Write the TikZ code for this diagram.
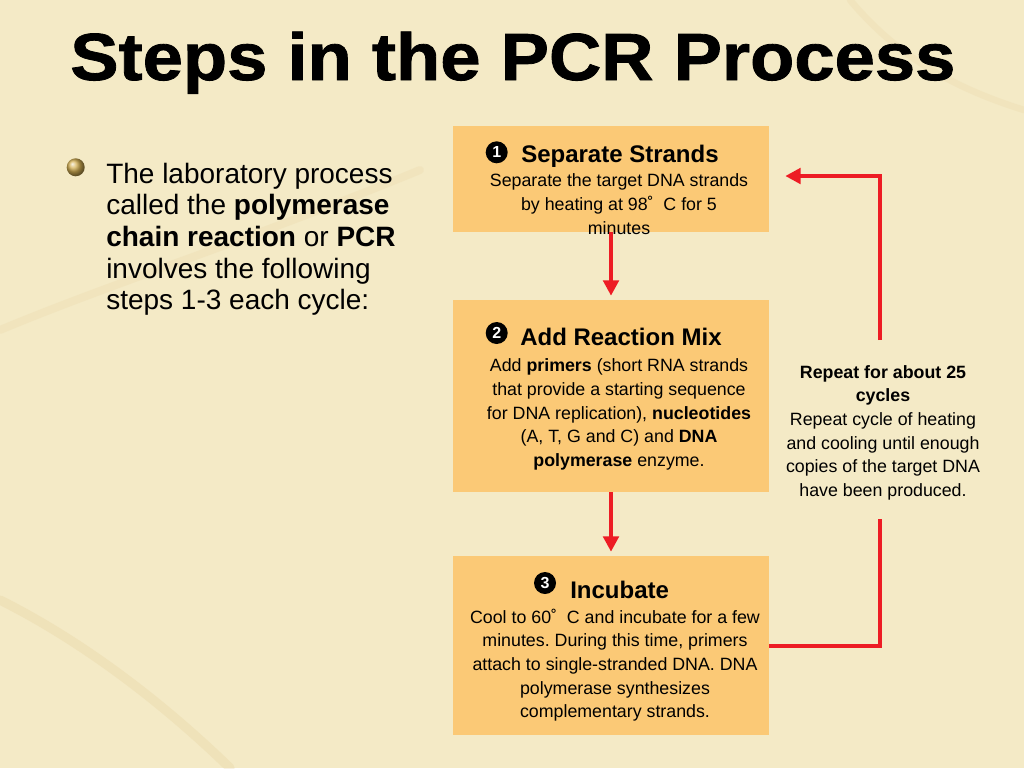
\documentclass[tikz,border=0pt]{standalone}
\usepackage{fontspec}
\setmainfont{Liberation Sans}
\usepackage{graphicx}
\usetikzlibrary{arrows.meta}
\definecolor{paper}{RGB}{244,234,198}
\definecolor{streak}{RGB}{224,198,142}
\definecolor{boxfill}{RGB}{251,201,118}
\definecolor{pcrred}{RGB}{237,28,36}
\definecolor{gold}{RGB}{212,176,84}
\newcommand{\ctab}[1]{\begin{tabular}[t]{@{}c@{}}#1\end{tabular}}
\newcommand{\ltab}[1]{\begin{tabular}[t]{@{}l@{}}#1\end{tabular}}
\frenchspacing
\begin{document}
\begin{tikzpicture}[x=0.75pt,y=-0.75pt,
  stepbox/.style={fill=boxfill, draw=none, minimum width=237pt, inner sep=0pt},
  numdot/.style={circle, fill=black, text=white, inner sep=0pt, minimum size=16.5pt, font=\bfseries\fontsize{12}{12}\selectfont},
  heading/.style={anchor=base west, inner sep=0pt, font=\bfseries\fontsize{18}{20}\selectfont},
  body/.style={anchor=base, inner sep=0pt, font=\fontsize{13.35}{17.8}\selectfont},
  flow/.style={draw=pcrred, line width=3pt, -{Triangle[length=11.5pt,width=11.5pt]}},
  loopline/.style={draw=pcrred, line width=3pt}]
\useasboundingbox (0,0) rectangle (1024,768);
\fill[paper] (0,0) rectangle (1024,768);
% faint paper streaks
\draw[streak, opacity=0.22, line width=7pt, line cap=round] (0,600) .. controls (80,640) and (160,700) .. (230,768);
\draw[streak, opacity=0.15, line width=6pt, line cap=round] (0,330) .. controls (120,280) and (250,240) .. (420,170);
\draw[streak, opacity=0.15, line width=5pt, line cap=round] (850,0) .. controls (900,60) and (960,90) .. (1024,110);

% title
\node[anchor=base west, inner sep=0pt] (title) at (70,80)
  {\scalebox{1.086}[1]{\fontsize{50}{55}\selectfont\bfseries\addfontfeatures{FakeBold=1.2}Steps in the PCR Process}};

% left bullet text
\node[circle, minimum size=13.5pt, inner sep=0pt, shading=ball, ball color=gold] (bullet) at (75.7,167.3) {};
\node[anchor=base west, inner sep=0pt, font=\fontsize{21}{23.8}\selectfont] (intro) at (106,183)
  {\ltab{The laboratory process\\called the \textbf{polymerase}\\\textbf{chain reaction} or \textbf{PCR}\\involves the following\\steps 1-3 each cycle:}};

% boxes
\node[stepbox, minimum height=79.5pt] (b1) at (611,179) {};
\node[stepbox, minimum height=144pt] (b2) at (611,396) {};
\node[stepbox, minimum height=134.25pt] (b3) at (611,645.5) {};

% box 1
\node[numdot] (n1) at (496.7,152.3) {1};
\node[heading] (h1) at (521,162.5) {Separate Strands};
\node[body] (t1) at (619,186.7)
  {\ctab{Separate the target DNA strands\\by heating at 98˚\hspace{0.55em}C for 5\\minutes}};

% box 2
\node[numdot] (n2) at (496.7,333) {2};
\node[heading] (h2) at (520,345) {Add Reaction Mix};
\node[body] (t2) at (619,371.7)
  {\ctab{Add \textbf{primers} (short RNA strands\\that provide a starting sequence\\for DNA replication), \textbf{nucleotides}\\(A, T, G and C) and \textbf{DNA}\\\textbf{polymerase} enzyme.}};

% box 3
\node[numdot] (n3) at (545,583) {3};
\node[heading] (h3) at (570,598) {Incubate};
\node[body] (t3) at (615,623)
  {\ctab{Cool to 60˚\hspace{0.55em}C and incubate for a few\\minutes. During this time, primers\\attach to single-stranded DNA. DNA\\polymerase synthesizes\\complementary strands.}};

% repeat text
\node[body] (rep) at (883,378)
  {\ctab{\textbf{Repeat for about 25}\\\textbf{cycles}\\Repeat cycle of heating\\and cooling until enough\\copies of the target DNA\\have been produced.}};

% connectors
\draw[flow, shorten >=3pt] (b1.south) -- (b2.north);
\draw[flow, shorten >=3pt] (b2.south) -- (b3.north);
\coordinate (c1) at (880,519);
\coordinate (c2) at (880,340);
\draw[loopline] (b3.east) -| (c1);
\draw[flow, shorten >=12pt] (c2) |- ([yshift=2.25pt]b1.east);
\end{tikzpicture}
\end{document}
